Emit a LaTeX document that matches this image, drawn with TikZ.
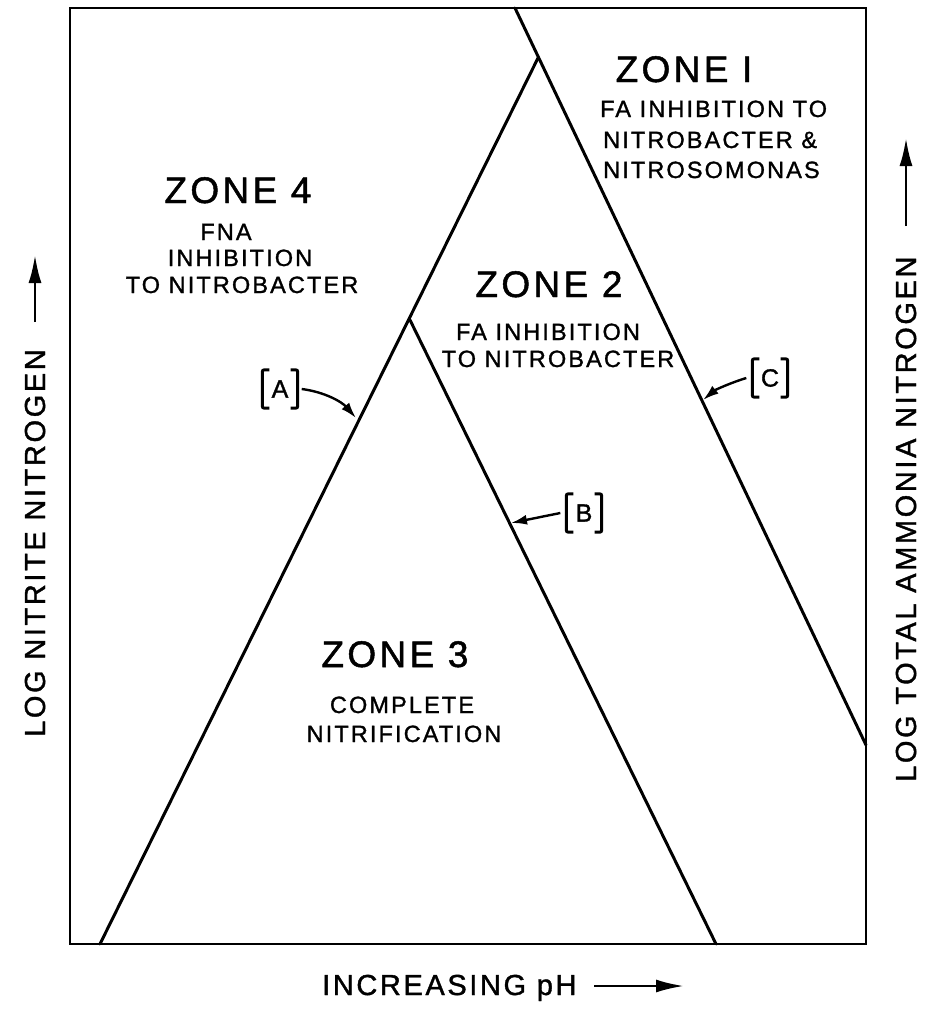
\documentclass[tikz,border=0pt]{standalone}
\usepackage{fontspec}
\newfontfamily\zf[LetterSpace=9,FakeBold=1.3]{Liberation Sans}
\usetikzlibrary{arrows.meta}
\begin{document}
\begin{tikzpicture}[x=1pt,y=-1pt,
  frame/.style={line width=2.2pt},
  zline/.style={line width=3pt, line cap=round},
  ztitle/.style={font=\zf\fontsize{37}{37}\selectfont, inner sep=0pt, anchor=base},
  zbody/.style={font=\zf\fontsize{23.5}{28}\selectfont, inner sep=0pt, anchor=base},
  axlab/.style={font=\zf\fontsize{29}{30}\selectfont, inner sep=0pt, anchor=base west},
  tag/.style={font=\zf\fontsize{25}{28}\selectfont, inner sep=0pt, minimum width=35pt, minimum height=38pt},
  brk/.style={line width=3pt, rounded corners=2pt},
  ptr/.style={line width=2.4pt, -{Latex[length=16pt,width=10pt]}},
  axarrow/.style={line width=2.6pt, -{Latex[length=28pt,width=13pt]}}
]
\useasboundingbox (0,0) rectangle (925,1020);
% frame
\draw[frame] (70,8) rectangle (866,944);
% corners of the zone lines
\coordinate (ctop) at (515,8);
\coordinate (cbot) at (866,745);
\coordinate (apex1) at (538,58);
\coordinate (abot) at (100,944);
\coordinate (apex2) at (410,320);
\coordinate (bbot) at (716,944);
\draw[zline] (ctop) -- (cbot);
\draw[zline] (abot) -- (apex1);
\draw[zline] (apex2) -- (bbot);

% zone 1
\node[ztitle] (z1) at (684,82) {ZONE I};
\node[zbody, anchor=base west] (z1a) at (600,117) {FA INHIBITION TO};
\node[zbody, anchor=base west] (z1b) at (603,148) {NITROBACTER \&};
\node[zbody, anchor=base west] (z1c) at (603,178) {NITROSOMONAS};
% zone 4
\node[ztitle] (z4) at (238,203) {ZONE 4};
\node[zbody] (z4a) at (226,240) {FNA};
\node[zbody] (z4b) at (240,266) {INHIBITION};
\node[zbody] (z4c) at (242,293) {TO NITROBACTER};
% zone 2
\node[ztitle] (z2) at (549,297) {ZONE 2};
\node[zbody] (z2a) at (548,340) {FA INHIBITION};
\node[zbody] (z2b) at (558,367) {TO NITROBACTER};
% zone 3
\node[ztitle] (z3) at (395,667) {ZONE 3};
\node[zbody] (z3a) at (402,713) {COMPLETE};
\node[zbody] (z3b) at (404,742) {NITRIFICATION};

% tags
\node[tag] (la) at (280,389) {A};
\node[tag] (lb) at (584,513) {B};
\node[tag] (lc) at (770,378) {C};
\foreach \t in {la,lb,lc}{
  \draw[brk] ([xshift=7pt]\t.north west) -- (\t.north west) -- (\t.south west) -- ([xshift=7pt]\t.south west);
  \draw[brk] ([xshift=-7pt]\t.north east) -- (\t.north east) -- (\t.south east) -- ([xshift=-7pt]\t.south east);
}
\coordinate (ta) at (356,418);
\coordinate (tb) at (511,523);
\coordinate (tc) at (703,400);
\draw[ptr] ([xshift=4pt]la.east) .. controls (325,392) and (342,402) .. (ta);
\draw[ptr] ([xshift=-6pt]lb.west) -- (tb);
\draw[ptr] ([xshift=-6pt]lc.west) .. controls (730,383) and (715,390) .. (tc);

% axis labels
\node[axlab] (xl) at (322,995) {INCREASING pH};
\coordinate (xa1) at (594,986);
\coordinate (xa2) at (684,986);
\draw[axarrow] (xa1) -- (xa2);

\node[axlab, rotate=90] (yl) at (45,737) {LOG NITRITE NITROGEN};
\coordinate (ya1) at (35,322);
\coordinate (ya2) at (35,255);
\draw[axarrow] (ya1) -- (ya2);

\node[axlab, rotate=90] (rl) at (916,782) {LOG TOTAL AMMONIA NITROGEN};
\coordinate (ra1) at (906,226);
\coordinate (ra2) at (906,138);
\draw[axarrow] (ra1) -- (ra2);
\end{tikzpicture}
\end{document}
